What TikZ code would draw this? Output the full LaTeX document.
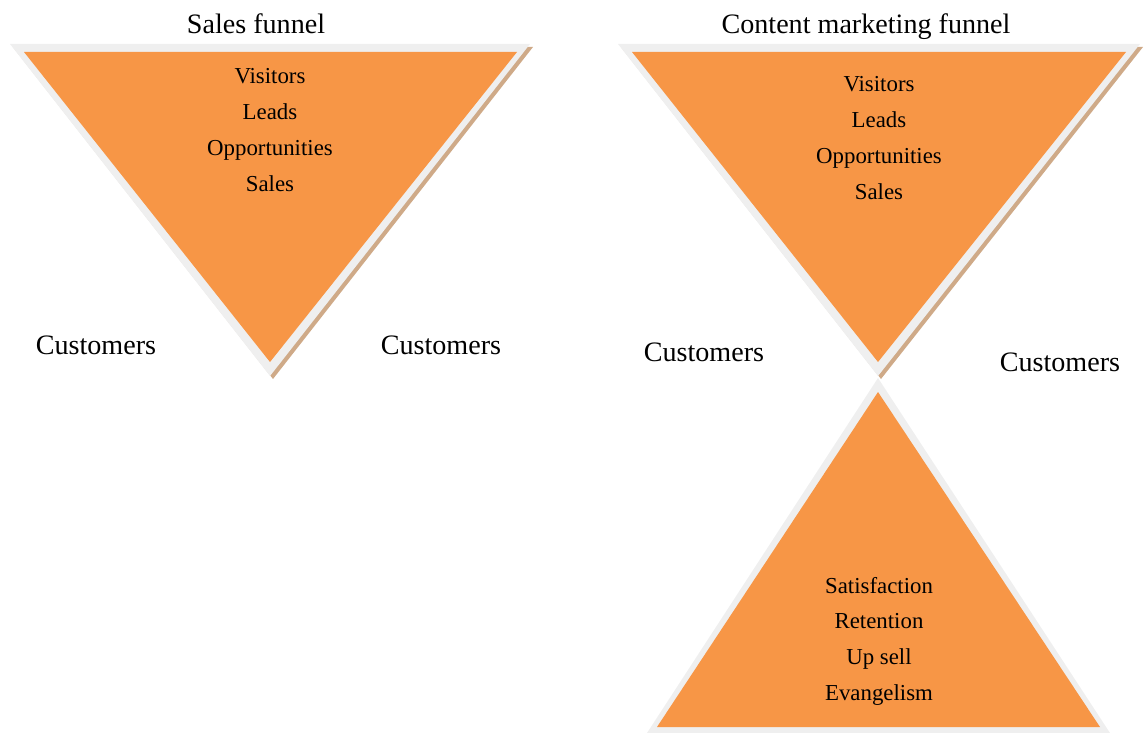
\documentclass[tikz,border=0pt]{standalone}
\usepackage{fontspec}
\setmainfont{Liberation Serif}
\definecolor{funnelorange}{HTML}{F79646}
\definecolor{rimgray}{HTML}{EFEFEF}
\definecolor{shadowtan}{HTML}{CFAA88}
\tikzset{
  item/.style={font=\fontsize{13}{15}\selectfont, text height=2.4ex, text depth=.4ex, inner sep=0pt},
  heading/.style={font=\fontsize{16}{19}\selectfont, text height=2.3ex, text depth=.4ex, inner sep=0pt},
  cust/.style={font=\fontsize{16}{19}\selectfont, text height=2.3ex, text depth=.4ex, inner sep=0pt},
}
\begin{document}
\begin{tikzpicture}[x=0.02cm,y=-0.02cm]
        \useasboundingbox (0,0) rectangle (1146,733);
        % Sales funnel
        \fill[shadowtan] (13,47) -- (533,47) -- (273,379) -- cycle;
        \fill[rimgray] (10,44) -- (530,44) -- (270,376) -- cycle;
        \fill[funnelorange] (24,52) -- (517,52) -- (270,362) -- cycle;
        % Content marketing funnel, top
        \fill[shadowtan] (621,47) -- (1143,47) -- (881,379) -- cycle;
        \fill[rimgray] (618,44) -- (1140,44) -- (878,376) -- cycle;
        \fill[funnelorange] (632,52) -- (1126,52) -- (878,362) -- cycle;
        % Content marketing funnel, bottom
        \fill[rimgray] (878,378) -- (1110,733) -- (647,733) -- cycle;
        \fill[funnelorange] (878,392) -- (1100,727) -- (657,727) -- cycle;
        % Titles
        \node[heading] (titleS) at (256,26) {Sales funnel};
        \node[heading] (titleC) at (866,26) {Content marketing funnel};
        % Stages
        \foreach \txt [count=\i] in {Visitors,Leads,Opportunities,Sales}
          \node[item] (sl\i) at (270,{75+36.3*(\i-1)}) {\txt};
        \foreach \txt [count=\i] in {Visitors,Leads,Opportunities,Sales}
          \node[item] (cm\i) at (879,{83+36*(\i-1)}) {\txt};
        \foreach \txt [count=\i] in {Satisfaction,Retention,Up sell,Evangelism}
          \node[item] (ret\i) at (879,{585+35.7*(\i-1)}) {\txt};
        % Customers
        \node[cust] (custSL) at (96,347) {Customers};
        \node[cust] (custSR) at (441,347) {Customers};
        \node[cust] (custCL) at (704,354) {Customers};
        \node[cust] (custCR) at (1060,364) {Customers};
      \end{tikzpicture}
\end{document}
